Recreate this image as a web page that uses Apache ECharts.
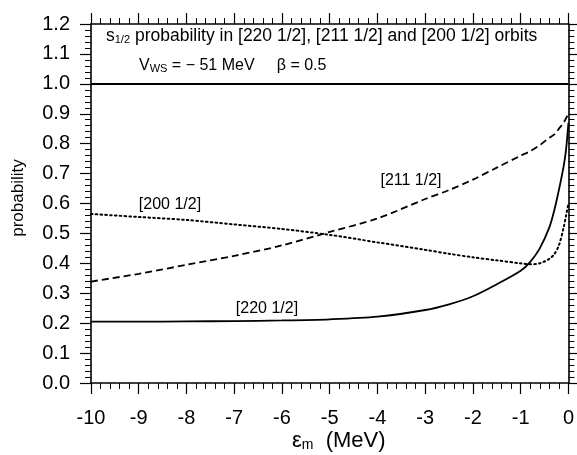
<!DOCTYPE html>
<html>
<head>
<meta charset="utf-8">
<script src="https://cdn.jsdelivr.net/npm/echarts@6/dist/echarts.min.js"></script>
<style>
html,body{margin:0;padding:0;background:#fff;}
#c{width:577px;height:455px;}
</style>
</head>
<body>
<div id="c"></div>
<script>
var energies = [-10,-9,-8,-7,-6,-5,-4,-3,-2.5,-2,-1.5,-1,-0.8,-0.6,-0.4,-0.3,-0.2,-0.1,-0.05,0];
var prob220 = [0.205,0.205,0.206,0.207,0.209,0.213,0.222,0.244,0.263,0.29,0.33,0.375,0.405,0.45,0.52,0.575,0.645,0.725,0.78,0.87];
var prob211 = [0.339,0.365,0.395,0.425,0.46,0.505,0.55,0.615,0.645,0.68,0.72,0.76,0.775,0.795,0.82,0.83,0.85,0.87,0.885,0.90];
var prob200 = [0.565,0.555,0.545,0.53,0.515,0.495,0.47,0.445,0.432,0.42,0.41,0.40,0.397,0.40,0.415,0.43,0.46,0.52,0.56,0.60];
var curveLabels = ['[220 1/2]', '[211 1/2]', '[200 1/2]'];

function pairs(ys){ return energies.map(function(x,i){ return [x, ys[i]]; }); }

var FONT = 'Liberation Sans, Arial, Helvetica, sans-serif';
var chart = echarts.init(document.getElementById('c'));

function xAx(pos, labels){
  return {
    type:'value', position:pos, min:-10, max:0, interval:1,
    axisLine:{show:true, onZero:false, lineStyle:{color:'#000', width:1.6}},
    axisTick:{show:true, inside:false, length:11, lineStyle:{color:'#000', width:1.2}},
    minorTick:{show:true, splitNumber:5, length:6, lineStyle:{color:'#000', width:1}},
    axisLabel:{show:labels, margin:25, color:'#000', fontSize:20, fontFamily:FONT,
      formatter:function(v){ return String(v); }},
    splitLine:{show:false}
  };
}
function yAx(pos, labels){
  return {
    type:'value', position:pos, min:0, max:1.2, interval:0.1,
    axisLine:{show:true, onZero:false, lineStyle:{color:'#000', width:1.6}},
    axisTick:{show:true, inside:false, length:11, lineStyle:{color:'#000', width:1.2}},
    minorTick:{show:true, splitNumber:5, length:6, lineStyle:{color:'#000', width:1}},
    axisLabel:{show:labels, margin:21, color:'#000', fontSize:20, fontFamily:FONT,
      formatter:function(v){ return v.toFixed(1); }},
    splitLine:{show:false}
  };
}

chart.setOption({
  animation:false,
  backgroundColor:'#fff',
  grid:{left:91, right:6, top:24, bottom:72},
  xAxis:[xAx('bottom', true), xAx('top', false)],
  yAxis:[yAx('left', true), yAx('right', false)],
  series:[
    {type:'line', name:curveLabels[0], data:pairs(prob220), smooth:0.3, showSymbol:false,
      lineStyle:{color:'#000', width:1.8, type:'solid'},
      markLine:{silent:true, symbol:['none','none'], label:{show:false},
        lineStyle:{color:'#000', width:1.8, type:'solid'}, data:[{yAxis:1.0}]}},
    {type:'line', name:curveLabels[1], data:pairs(prob211), smooth:0.3, showSymbol:false,
      lineStyle:{color:'#000', width:1.8, type:[7,4]}},
    {type:'line', name:curveLabels[2], data:pairs(prob200), smooth:0.3, showSymbol:false,
      lineStyle:{color:'#000', width:2, type:[1.6,3.2], cap:'round'}}
  ],
  graphic:[
    {type:'text', left:106, top:27, style:{
      text:'{m|s}{s|1/2}{m| probability in [220 1/2], [211 1/2] and [200 1/2] orbits}',
      rich:{m:{fontSize:17.5, fontFamily:FONT, fill:'#000'}, s:{fontSize:11, fontFamily:FONT, fill:'#000', padding:[7,0,0,0]}}
    }},
    {type:'text', left:139, top:58, style:{
      text:'{m|V}{s|WS}{m| = \u2212 51 MeV     \u03b2 = 0.5}',
      rich:{m:{fontSize:16, fontFamily:FONT, fill:'#000'}, s:{fontSize:11, fontFamily:FONT, fill:'#000', padding:[6,0,0,0]}}
    }},
    {type:'text', x:170, y:205, style:{text:curveLabels[2], fontSize:16, fontFamily:FONT, fill:'#000', align:'center', verticalAlign:'middle'}},
    {type:'text', x:267, y:309, style:{text:curveLabels[0], fontSize:16, fontFamily:FONT, fill:'#000', align:'center', verticalAlign:'middle'}},
    {type:'text', x:411, y:181, style:{text:curveLabels[1], fontSize:16, fontFamily:FONT, fill:'#000', align:'center', verticalAlign:'middle'}},
    {type:'text', x:18, y:198, rotation:Math.PI/2, style:{text:'probability', fontSize:17, fontFamily:FONT, fill:'#000', align:'center', verticalAlign:'middle'}},
    {type:'text', left:292, top:430, style:{
      text:'{m|\u03b5}{s|m}{m|  (MeV)}',
      rich:{m:{fontSize:22, fontFamily:FONT, fill:'#000'}, s:{fontSize:14, fontFamily:FONT, fill:'#000', padding:[8,0,0,0]}}
    }}
  ]
});
</script>
</body>
</html>
